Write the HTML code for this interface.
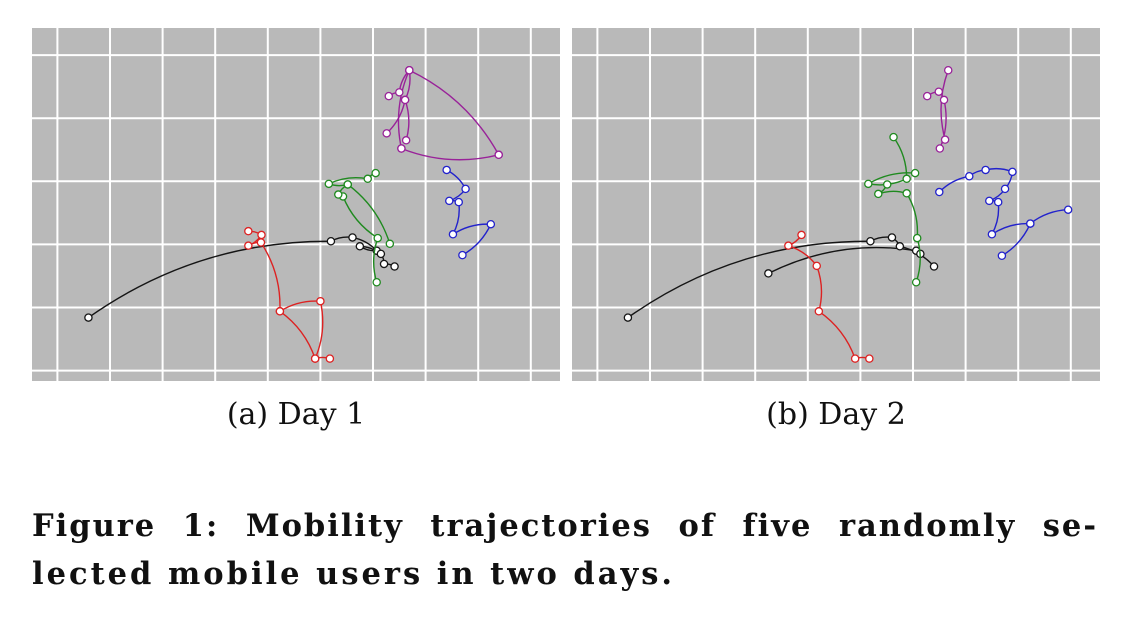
<!DOCTYPE html>
<html><head><meta charset="utf-8"><style>
html,body{margin:0;padding:0;background:#fff;width:1131px;height:617px;overflow:hidden}
.sub{position:absolute;top:395px;font-family:"DejaVu Serif","Liberation Serif",serif;font-size:30px;color:#111;text-align:center;width:300px;line-height:40px}
#cap{position:absolute;left:32px;top:502px;width:1066px;font-family:"DejaVu Serif","Liberation Serif",serif;font-weight:bold;font-size:30.5px;color:#111;line-height:48px;letter-spacing:3px}
#cap div{white-space:nowrap}
#cap div.first{text-align:justify;text-align-last:justify;letter-spacing:2px}
</style></head><body>
<svg id="chart" width="1131" height="617" style="position:absolute;left:0;top:0"></svg>
<div class="sub" style="left:146px">(a) Day 1</div>
<div class="sub" style="left:686px">(b) Day 2</div>
<div id="cap">
<div class="first">Figure 1: Mobility trajectories of five randomly se-</div>
<div>lected mobile users in two days.</div>
</div>
<script>
// data in grid units (x: columns, y: rows downward)
const userNames = ['black','red','green','purple','blue'];
const userColors = ['#151515','#dd2222','#1f8a1f','#992299','#2222cc'];
const day1Black = [[[0.59,4.16],[5.20,2.95],[5.61,2.89],[6.07,3.10],[5.75,3.03],[6.15,3.15],[6.21,3.31],[6.41,3.35]]];
const day1Red = [[[3.63,2.79],[3.88,2.85],[3.63,3.02],[3.87,2.97],[4.23,4.06],[5.00,3.90],[4.90,4.81],[5.18,4.81]],[[4.23,4.06],[4.90,4.81]]];
const day1Green = [[[6.07,3.60],[6.09,2.90],[5.43,2.24],[5.34,2.21],[5.52,2.05],[5.16,2.04],[5.90,1.96],[6.05,1.87]],[[5.52,2.05],[6.32,2.99]]];
const day1Purple = [[[6.30,0.65],[6.50,0.59],[6.69,0.24],[6.61,0.71],[6.26,1.24]],[[6.61,0.71],[6.63,1.35]],[[6.69,0.24],[8.39,1.58]],[[8.39,1.58],[6.54,1.48]],[[6.54,1.48],[6.69,0.24]]];
const day1Blue = [[[7.40,1.82],[7.76,2.12],[7.45,2.31],[7.63,2.33],[7.52,2.84],[8.24,2.68],[7.70,3.17]]];
const day2Black = [[[0.58,4.16],[5.19,2.95],[5.60,2.89],[5.75,3.03],[6.40,3.35]],[[3.25,3.46],[6.06,3.10],[6.14,3.15]]];
const day2Red = [[[3.88,2.85],[3.63,3.02],[4.17,3.34],[4.21,4.06],[4.90,4.81],[5.17,4.81]]];
const day2Green = [[[5.63,1.30],[5.88,1.96],[5.15,2.04],[6.04,1.87]],[[5.51,2.05],[5.34,2.20],[5.88,2.19],[6.08,2.90],[6.06,3.60]]];
const day2Purple = [[[6.27,0.65],[6.49,0.58],[6.59,0.71],[6.51,1.48],[6.61,1.34],[6.67,0.24]]];
const day2Blue = [[[6.50,2.17],[7.07,1.92],[7.38,1.82],[7.89,1.85],[7.75,2.12],[7.45,2.31],[7.62,2.33],[7.50,2.84],[8.23,2.67],[8.95,2.45]],[[8.23,2.67],[7.69,3.18]]];
const days = [[day1Black,day1Red,day1Green,day1Purple,day1Blue],[day2Black,day2Red,day2Green,day2Purple,day2Blue]];
const gridCols = [0,1,2,3,4,5,6,7,8,9];
const gridRows = [0,1,2,3,4,5];

const NS='http://www.w3.org/2000/svg';
const svg=document.getElementById('chart');
const panelLeft=[32,572], panelTop=28, panelW=528, panelH=353;
function mk(tag,attrs,parent){const e=document.createElementNS(NS,tag);for(const k in attrs)e.setAttribute(k,attrs[k]);parent.appendChild(e);return e;}
function path(pts,X,Y){
  const p=pts.map(q=>[X(q[0]),Y(q[1])]);
  let d='M'+p[0][0]+','+p[0][1];
  for(let i=0;i<p.length-1;i++){
    const a=p[i],b=p[i+1];
    const dx=b[0]-a[0],dy=b[1]-a[1];
    const k=0.16;
    const cx=(a[0]+b[0])/2+dy*k, cy=(a[1]+b[1])/2-dx*k;
    d+=' Q'+cx+','+cy+' '+b[0]+','+b[1];
  }
  return d;
}
days.forEach((series,di)=>{
  const L=panelLeft[di];
  const X=v=>L+25.4+v*52.6, Y=v=>55.1+v*63.1;
  const g=mk('g',{},svg);
  
  
  const bg=mk('rect',{x:L,y:panelTop,width:panelW,height:panelH,fill:'#b9b9b9'},g);
  
  
  gridCols.forEach(c=>{const l=mk('line',{x1:X(c),x2:X(c),y1:panelTop,y2:panelTop+panelH,stroke:'#fff','stroke-width':2},g);
    
    });
  gridRows.forEach(r=>{const l=mk('line',{x1:L,x2:L+panelW,y1:Y(r),y2:Y(r),stroke:'#fff','stroke-width':2},g);
    
    });
  series.forEach((segs,si)=>{
    const sg=mk('g',{},g);
    
    
    segs.forEach(seg=>{const pe=mk('path',{d:path(seg,X,Y),fill:'none',stroke:userColors[si],'stroke-width':1.4},sg);
      
      });
    segs.forEach(seg=>seg.forEach(q=>{const c=mk('circle',{cx:X(q[0]),cy:Y(q[1]),r:3.6,fill:'#fff',stroke:userColors[si],'stroke-width':1.3},sg);
      
      }));
  });
});
</script>
</body></html>
